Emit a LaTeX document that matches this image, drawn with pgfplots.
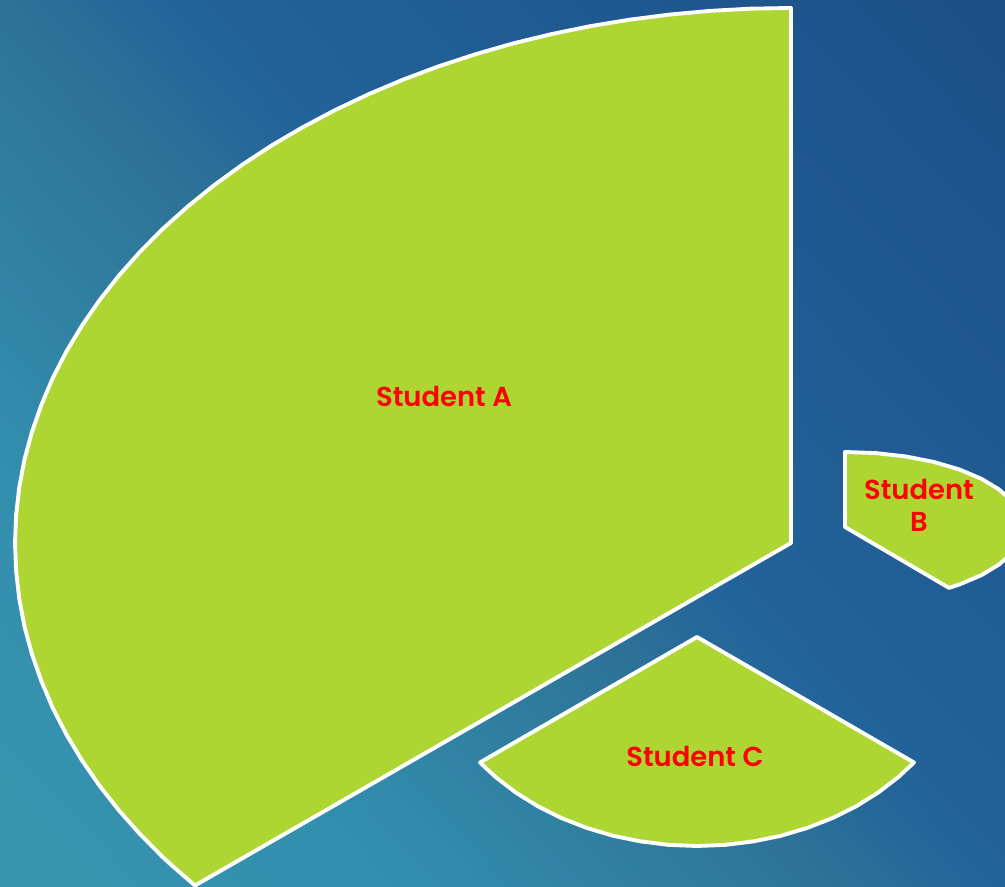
\documentclass[border=0pt]{standalone}
\usepackage{fontspec}
\setmainfont{Poppins}[BoldFont={Poppins SemiBold}]
\usepackage{pgfplots}
\pgfplotsset{compat=1.18}

\definecolor{slicegreen}{HTML}{ADD633}
\definecolor{bgA}{HTML}{3893AE}
\definecolor{bgB}{HTML}{338FAE}
\definecolor{bgC}{HTML}{2D7397}
\definecolor{bgD}{HTML}{22639A}
\definecolor{bgE}{HTML}{1C4F86}

\pgfdeclarehorizontalshading{slidebg}{100bp}{%
  color(0bp)=(bgA); color(25bp)=(bgA); color(35.6bp)=(bgB);
  color(47.6bp)=(bgC); color(52.5bp)=(bgD); color(75bp)=(bgE); color(100bp)=(bgE)}

\pgfplotsset{slice/.style={fill=slicegreen, draw=white, no markers,
    line width=1.1pt, line join=round}}

\begin{document}
\begin{tikzpicture}
\useasboundingbox (0,0) rectangle (10.05,8.87);
% slide background
\begin{scope}
  \clip (0,0) rectangle (10.05,8.87);
  \begin{scope}[transform canvas={shift={(2.0,1.37)}, rotate=43}]
    \shade[shading=slidebg] (-2.4,-9) rectangle (11.0,9);
  \end{scope}
\end{scope}

\begin{axis}[
    at={(0,0)}, anchor=south west,
    width=10.05cm, height=8.87cm, scale only axis,
    xmin=0, xmax=1005, ymin=0, ymax=887,
    hide axis, clip=true,
]
% Student A
\addplot[slice] coordinates {
 (791,344) (791,879) (750.4,878.3) (709.9,876.1) (669.6,872.4) (629.7,867.3)
 (590.2,860.8) (551.2,852.8) (512.9,843.5) (475.4,832.7) (438.7,820.7)
 (403,807.3) (368.4,792.7) (334.9,776.8) (302.7,759.7) (271.8,741.6)
 (242.3,722.3) (214.4,702.0) (188.0,680.7) (163.2,658.5) (140.2,635.4)
 (119.0,611.5) (99.6,586.9) (82.1,561.6) (66.5,535.7) (52.9,509.3)
 (41.5,482.5) (32.0,455.2) (24.5,427.7) (19.3,399.9) (16.1,372.0) (15,344)
 (16.1,316.0) (19.3,288.1) (24.5,260.3) (32.0,232.8) (41.5,205.5)
 (52.9,178.7) (66.5,152.3) (82.1,126.4) (99.6,101.1) (119.0,76.5)
 (140.2,52.6) (163.2,29.5) (171.3,22.0) (195,1.5)
} -- cycle;
% Student C
\addplot[slice] coordinates {
 (697,250) (480,124.5) (495.3,110.2) (515.4,94.7) (537.5,80.9) (561.3,69.0)
 (586.6,59.1) (613.1,51.2) (640.6,45.6) (668.6,42.1) (697,41) (725.4,42.1)
 (753.4,45.6) (780.9,51.2) (807.4,59.1) (832.7,69.0) (856.5,80.9)
 (878.6,94.7) (898.7,110.2) (914,124.5)
} -- cycle;
% Student B
\addplot[slice] coordinates {
 (845,360) (845,435) (875.9,433.9) (905.9,430.5) (934,425.0) (959.4,417.5)
 (981.4,408.2) (999.1,397.5) (1012.3,385.7) (1020.3,373.0) (1023,360)
 (1020.3,347.0) (1012.3,334.3) (999.1,322.5) (981.4,311.8) (959.4,302.5)
 (949,299.1)
} -- cycle;

\begin{scope}[every node/.style={text=red, font=\fontsize{7.8}{9.1}\selectfont\bfseries, align=center}]
\node at (axis cs:444,490) {Student A};
\node at (axis cs:919,382) {Student\\B};
\node at (axis cs:695,131) {Student C};
\end{scope}
\end{axis}
\end{tikzpicture}
\end{document}
